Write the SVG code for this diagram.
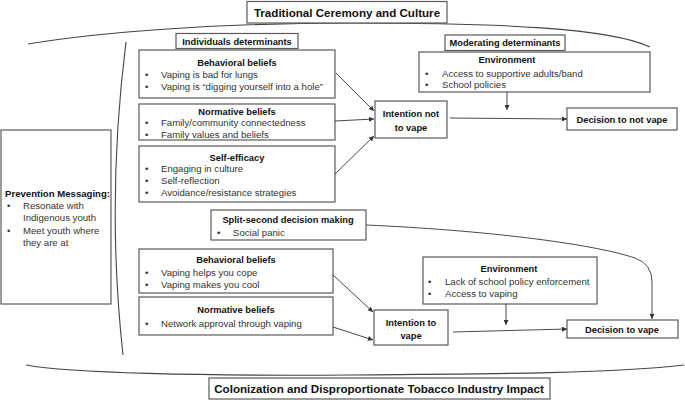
<svg xmlns="http://www.w3.org/2000/svg" width="685" height="400" viewBox="0 0 685 400">
<defs>
<marker id="ah" viewBox="0 0 10 10" refX="10" refY="5" markerWidth="6" markerHeight="5" markerUnits="userSpaceOnUse" orient="auto">
<path d="M0,0 L10,5 L0,10 Z" fill="#333"/>
</marker>
<style>
.box{fill:#fff;stroke:#5a5a5a;stroke-width:1.2}
.t{font-family:"Liberation Sans",Arial,sans-serif;fill:#111;font-weight:bold;text-anchor:middle}
.big{font-size:11.6px}
.h{font-size:9.3px}
.b{font-family:"Liberation Sans",Arial,sans-serif;fill:#333;font-size:9.6px}
.arc{fill:none;stroke:#444;stroke-width:1.1}
.c{fill:none;stroke:#333;stroke-width:0.9}
.ca{fill:none;stroke:#333;stroke-width:0.9;marker-end:url(#ah)}
</style>
</defs>
<rect width="685" height="400" fill="#fff"/>

<g id="frame">
<path class="arc" d="M28,44 C100,32 220,23 350,23 C500,23 610,28 650,47"/>
<path class="arc" d="M26,365 C70,373 200,376 350,375 C500,374 620,373 684,365"/>
<path class="arc" d="M126,42 Q106,200 123,355"/>
</g>

<g id="top-title">
<rect class="box" x="247" y="1.5" width="200" height="21.5"/>
<text class="t big" x="347" y="16.5">Traditional Ceremony and Culture</text>
</g>

<g id="bottom-title">
<rect class="box" x="209" y="378" width="341" height="21"/>
<text class="t big" x="379" y="393">Colonization and Disproportionate Tobacco Industry Impact</text>
</g>

<g id="individuals">
<rect class="box" x="176" y="33.5" width="122" height="15"/>
<text class="t h" x="237" y="44.5">Individuals determinants</text>
</g>

<g id="moderating">
<rect class="box" x="445" y="35" width="120" height="15.5"/>
<text class="t h" x="505" y="46">Moderating determinants</text>
</g>

<g id="prevention">
<rect class="box" x="1" y="130" width="110" height="174"/>
<text class="t" style="font-size:9.6px;text-anchor:start" x="5" y="196.5">Prevention Messaging:</text>
<text class="b" x="7" y="208.5">•</text><text class="b" x="23" y="208.5">Resonate with</text>
<text class="b" x="23" y="220.5">Indigenous youth</text>
<text class="b" x="7" y="233.5">•</text><text class="b" x="23" y="233.5">Meet youth where</text>
<text class="b" x="23" y="246">they are at</text>
</g>

<g id="behavioral-1">
<rect class="box" x="139" y="50" width="196" height="48"/>
<text class="t h" x="237" y="66">Behavioral beliefs</text>
<text class="b" x="145" y="77.5">•</text><text class="b" x="161" y="77.5">Vaping is bad for lungs</text>
<text class="b" x="145" y="90">•</text><text class="b" x="161" y="90">Vaping is “digging yourself into a hole”</text>
</g>

<g id="normative-1">
<rect class="box" x="139" y="104" width="196" height="36"/>
<text class="t h" x="237" y="114.5">Normative beliefs</text>
<text class="b" x="145" y="125.5">•</text><text class="b" x="161" y="125.5">Family/community connectedness</text>
<text class="b" x="145" y="138">•</text><text class="b" x="161" y="138">Family values and beliefs</text>
</g>

<g id="self-efficacy">
<rect class="box" x="139" y="146" width="196" height="56"/>
<text class="t h" x="237" y="160.5">Self-efficacy</text>
<text class="b" x="145" y="171.5">•</text><text class="b" x="161" y="171.5">Engaging in culture</text>
<text class="b" x="145" y="183.5">•</text><text class="b" x="161" y="183.5">Self-reflection</text>
<text class="b" x="145" y="196">•</text><text class="b" x="161" y="196">Avoidance/resistance strategies</text>
</g>

<g id="split-second">
<rect class="box" x="211" y="210" width="155" height="30"/>
<text class="t h" x="288" y="222.5">Split-second decision making</text>
<text class="b" x="217" y="235.5">•</text><text class="b" x="233" y="235.5">Social panic</text>
</g>

<g id="behavioral-2">
<rect class="box" x="139" y="249" width="194" height="44"/>
<text class="t h" x="236" y="262.5">Behavioral beliefs</text>
<text class="b" x="145" y="275.5">•</text><text class="b" x="161" y="275.5">Vaping helps you cope</text>
<text class="b" x="145" y="287.5">•</text><text class="b" x="161" y="287.5">Vaping makes you cool</text>
</g>

<g id="normative-2">
<rect class="box" x="139" y="297" width="194" height="38"/>
<text class="t h" x="236" y="312.5">Normative beliefs</text>
<text class="b" x="145" y="326.5">•</text><text class="b" x="161" y="326.5">Network approval through vaping</text>
</g>

<g id="intention-not">
<rect class="box" x="375" y="101" width="72" height="37"/>
<text class="t h" x="411" y="116.5">Intention not</text>
<text class="t h" x="411" y="130.5">to vape</text>
</g>

<g id="decision-not">
<rect class="box" x="567" y="108" width="110" height="22"/>
<text class="t h" x="622" y="122.5">Decision to not vape</text>
</g>

<g id="environment-1">
<rect class="box" x="419" y="52" width="231" height="40"/>
<text class="t h" x="507" y="62.5">Environment</text>
<text class="b" x="425" y="76.5">•</text><text class="b" x="442" y="76.5">Access to supportive adults/band</text>
<text class="b" x="425" y="87.5">•</text><text class="b" x="442" y="87.5">School policies</text>
</g>

<g id="intention">
<rect class="box" x="374" y="310" width="74" height="35"/>
<text class="t h" x="411" y="325.5">Intention to</text>
<text class="t h" x="411" y="338.5">vape</text>
</g>

<g id="decision">
<rect class="box" x="567" y="320" width="111" height="18"/>
<text class="t h" x="622" y="332.5">Decision to vape</text>
</g>

<g id="environment-2">
<rect class="box" x="423" y="257" width="174" height="47"/>
<text class="t h" x="509" y="271.5">Environment</text>
<text class="b" x="428" y="284.5">•</text><text class="b" x="445" y="284.5">Lack of school policy enforcement</text>
<text class="b" x="428" y="296.5">•</text><text class="b" x="445" y="296.5">Access to vaping</text>
</g>

<g id="connectors">
<path class="ca" d="M336,73 L374,111"/>
<path class="ca" d="M335,121 L374,119"/>
<path class="ca" d="M335,174 L374,136"/>
<path class="ca" d="M450,118 L567,119"/>
<path class="ca" d="M507,92 L507,110"/>
<path class="ca" d="M333,275 L373,312"/>
<path class="ca" d="M333,327 L373,340"/>
<path class="ca" d="M453,332 L567,329"/>
<path class="ca" d="M506,304 L506,325"/>
<path class="ca" d="M366,225 C480,230 590,243 635,258 Q652,264 652,282 L652,319"/>
</g>
</svg>
